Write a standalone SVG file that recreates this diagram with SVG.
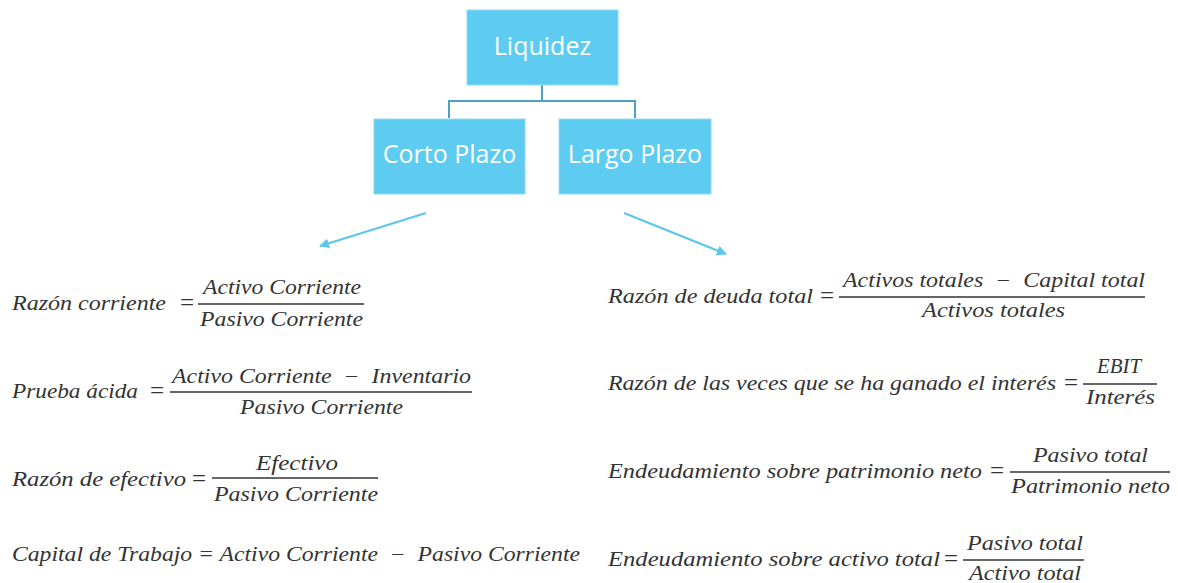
<svg xmlns="http://www.w3.org/2000/svg" width="1178" height="583" viewBox="0 0 1178 583">
<style>
.box{fill:#5ecbf0;stroke:#8fdcf5;stroke-width:1}
.bt{font-family:"Open Sans","Noto Sans",sans-serif;font-size:25px;fill:#ffffff;text-anchor:middle}
.tree{fill:none;stroke:#4aa2c4;stroke-width:2}
.arr{fill:none;stroke:#5bc6ec;stroke-width:2}
.m{font-family:"Liberation Serif","DejaVu Serif",serif;font-style:italic;font-size:20px;fill:#333333}
.eq{font-family:"Liberation Serif","DejaVu Serif",serif;font-size:25px;fill:#333333;text-anchor:middle}
.fl{stroke:#333333;stroke-width:1.3}
</style>
<defs>
<marker id="ah" viewBox="0 0 10 10" refX="9" refY="5" markerWidth="5" markerHeight="5" orient="auto" markerUnits="strokeWidth">
<path d="M0,0 L10,5 L0,10 z" fill="#5bc6ec"/>
</marker>
</defs>
<g id="connectors">
<path class="tree" d="M542,85 V101 M449,118 V101 H635 V118"/>
<line class="arr" x1="426" y1="213" x2="320" y2="246" marker-end="url(#ah)"/>
<line class="arr" x1="624" y1="213" x2="726" y2="254" marker-end="url(#ah)"/>
</g>
<g id="liquidez"><rect class="box" x="467" y="10" width="151" height="75"/><text class="bt" x="542.5" y="55">Liquidez</text></g>
<g id="corto"><rect class="box" x="374" y="119" width="151" height="75"/><text class="bt" x="449.5" y="163">Corto Plazo</text></g>
<g id="largo"><rect class="box" x="559" y="119" width="152" height="75"/><text class="bt" x="635" y="163">Largo Plazo</text></g>

<g id="razon-corriente">
<text class="m" x="12" y="310" textLength="154" lengthAdjust="spacingAndGlyphs">Razón corriente</text>
<text class="eq" x="187" y="311">=</text>
<line class="fl" x1="198" y1="304" x2="364" y2="304"/>
<text class="m" x="203" y="294" textLength="158" lengthAdjust="spacingAndGlyphs">Activo Corriente</text>
<text class="m" x="200" y="326" textLength="163" lengthAdjust="spacingAndGlyphs">Pasivo Corriente</text>
</g>
<g id="prueba-acida">
<text class="m" x="12" y="398" textLength="126" lengthAdjust="spacingAndGlyphs">Prueba ácida</text>
<text class="eq" x="157" y="399">=</text>
<line class="fl" x1="170" y1="392" x2="472" y2="392"/>
<text class="m" x="172" y="383" textLength="299" lengthAdjust="spacingAndGlyphs">Activo Corriente &#160;−&#160; Inventario</text>
<text class="m" x="240" y="414" textLength="163" lengthAdjust="spacingAndGlyphs">Pasivo Corriente</text>
</g>
<g id="razon-efectivo">
<text class="m" x="12" y="486" textLength="174" lengthAdjust="spacingAndGlyphs">Razón de efectivo</text>
<text class="eq" x="199" y="487">=</text>
<line class="fl" x1="212" y1="478" x2="378" y2="478"/>
<text class="m" x="256" y="470" textLength="82" lengthAdjust="spacingAndGlyphs">Efectivo</text>
<text class="m" x="214" y="501" textLength="164" lengthAdjust="spacingAndGlyphs">Pasivo Corriente</text>
</g>
<g id="capital-trabajo">
<text class="m" x="12" y="561" textLength="568" lengthAdjust="spacingAndGlyphs">Capital de Trabajo = Activo Corriente &#160;−&#160; Pasivo Corriente</text>
</g>

<g id="deuda-total">
<text class="m" x="608" y="303" textLength="205" lengthAdjust="spacingAndGlyphs">Razón de deuda total</text>
<text class="eq" x="827" y="304">=</text>
<line class="fl" x1="839" y1="297" x2="1145" y2="297"/>
<text class="m" x="843" y="287" textLength="302" lengthAdjust="spacingAndGlyphs">Activos totales &#160;−&#160; Capital total</text>
<text class="m" x="922" y="317" textLength="143" lengthAdjust="spacingAndGlyphs">Activos totales</text>
</g>
<g id="veces-interes">
<text class="m" x="608" y="390" textLength="448" lengthAdjust="spacingAndGlyphs">Razón de las veces que se ha ganado el interés</text>
<text class="eq" x="1071" y="391">=</text>
<line class="fl" x1="1083" y1="384" x2="1157" y2="384"/>
<text class="m" x="1097" y="373" textLength="44" lengthAdjust="spacingAndGlyphs">EBIT</text>
<text class="m" x="1086" y="404" textLength="69" lengthAdjust="spacingAndGlyphs">Interés</text>
</g>
<g id="patrimonio-neto">
<text class="m" x="608" y="478" textLength="374" lengthAdjust="spacingAndGlyphs">Endeudamiento sobre patrimonio neto</text>
<text class="eq" x="997" y="479">=</text>
<line class="fl" x1="1010" y1="472" x2="1170" y2="472"/>
<text class="m" x="1033" y="462" textLength="115" lengthAdjust="spacingAndGlyphs">Pasivo total</text>
<text class="m" x="1011" y="493" textLength="159" lengthAdjust="spacingAndGlyphs">Patrimonio neto</text>
</g>
<g id="activo-total">
<text class="m" x="608" y="566" textLength="332" lengthAdjust="spacingAndGlyphs">Endeudamiento sobre activo total</text>
<text class="eq" x="951" y="567">=</text>
<line class="fl" x1="963" y1="560" x2="1084" y2="560"/>
<text class="m" x="967" y="550" textLength="116" lengthAdjust="spacingAndGlyphs">Pasivo total</text>
<text class="m" x="969" y="580" textLength="112" lengthAdjust="spacingAndGlyphs">Activo total</text>
</g>
</svg>
